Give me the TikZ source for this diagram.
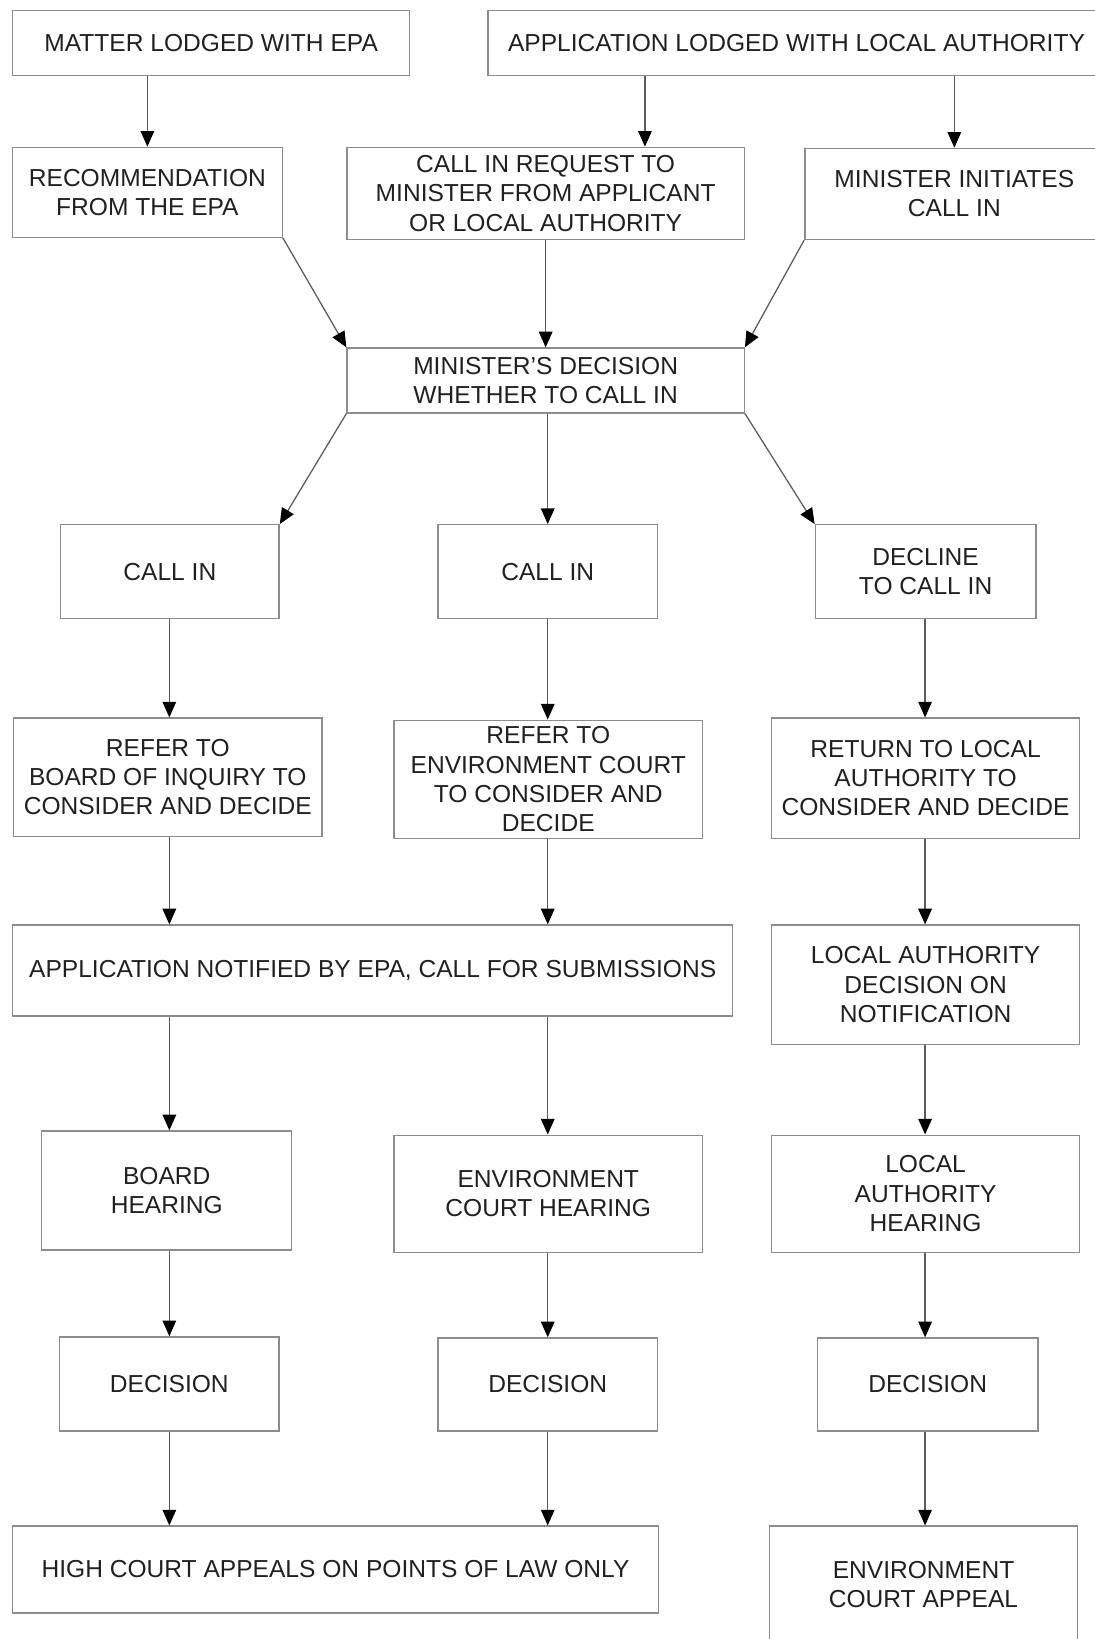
\documentclass[tikz,border=0pt]{standalone}
\usepackage{fontspec}
\setmainfont{Liberation Sans}
\usetikzlibrary{arrows.meta}
\definecolor{boxline}{HTML}{8C8C8C}
\definecolor{arrline}{HTML}{5A5A5A}
\definecolor{boxtext}{HTML}{202020}
\newcommand{\flwcolxa}{162}
\newcommand{\flwcolxb}{524}
\newcommand{\flwcolxc}{885}
\newcommand{\flwreqx}{617}

\begin{document}
\begin{tikzpicture}[x=1pt,y=-1pt,
    font=\fontsize{23.5}{28}\selectfont,
    stepbox/.style={draw=boxline,line width=1.3pt,text=boxtext,
      align=center,inner sep=0pt},
    flow/.style={draw=arrline,line width=1.2pt,
      -{Triangle[length=15pt,width=13pt,color=black]}}]

    \useasboundingbox (0,0) rectangle (1047,1568);
    \coordinate (colA) at (\flwcolxa,0);
    \coordinate (colB) at (\flwcolxb,0);
    \coordinate (colC) at (\flwcolxc,0);
    \coordinate (colR) at (\flwreqx,0);

    % entry points
    \node (matter) at (202,41) [stepbox,minimum width=380pt,minimum height=62pt]
      {MATTER LODGED WITH EPA};
    \node (applodge) at (762,41) [stepbox,minimum width=590pt,minimum height=62pt]
      {APPLICATION LODGED WITH LOCAL AUTHORITY};

    \node (rec) at (141,184) [stepbox,minimum width=258pt,minimum height=86pt]
      {RECOMMENDATION\\FROM THE EPA};
    \node (req) at (522,185) [stepbox,minimum width=380pt,minimum height=88pt]
      {CALL IN REQUEST TO\\MINISTER FROM APPLICANT\\OR LOCAL AUTHORITY};
    \node (mininit) at (913,185.5) [stepbox,minimum width=286pt,minimum height=87pt]
      {MINISTER INITIATES\\CALL IN};

    \node (mdec) at (522,364) [stepbox,minimum width=380pt,minimum height=62pt]
      {MINISTER'S DECISION\\WHETHER TO CALL IN};

    % three branches
    \node (callA) at (162.5,547) [stepbox,minimum width=209pt,minimum height=90pt]
      {CALL IN};
    \node (callB) at (524,547) [stepbox,minimum width=210pt,minimum height=90pt]
      {CALL IN};
    \node (declC) at (885.5,547) [stepbox,minimum width=211pt,minimum height=90pt]
      {DECLINE\\TO CALL IN};

    \node (referA) at (160.5,743.5) [stepbox,minimum width=295pt,minimum height=113pt]
      {REFER TO\\BOARD OF INQUIRY TO\\CONSIDER AND DECIDE};
    \node (referB) at (524.5,745.5) [stepbox,minimum width=295pt,minimum height=113pt]
      {REFER TO\\ENVIRONMENT COURT\\TO CONSIDER AND\\DECIDE};
    \node (returnC) at (885.5,744.5) [stepbox,minimum width=295pt,minimum height=115pt]
      {RETURN TO LOCAL\\AUTHORITY TO\\CONSIDER AND DECIDE};

    \node (notified) at (356.5,928.5) [stepbox,minimum width=689pt,minimum height=87pt]
      {APPLICATION NOTIFIED BY EPA, CALL FOR SUBMISSIONS};
    \node (ladec) at (885.5,942) [stepbox,minimum width=295pt,minimum height=114pt]
      {LOCAL AUTHORITY\\DECISION ON\\NOTIFICATION};

    \node (boardA) at (159.5,1139) [stepbox,minimum width=239pt,minimum height=114pt]
      {BOARD\\HEARING};
    \node (envB) at (524.5,1142) [stepbox,minimum width=295pt,minimum height=112pt]
      {ENVIRONMENT\\COURT HEARING};
    \node (lahC) at (885.5,1142) [stepbox,minimum width=295pt,minimum height=112pt]
      {LOCAL\\AUTHORITY\\HEARING};

    \node (decA) at (162,1324) [stepbox,minimum width=210pt,minimum height=90pt]
      {DECISION};
    \node (decB) at (524,1324.5) [stepbox,minimum width=210pt,minimum height=89pt]
      {DECISION};
    \node (decC) at (887.5,1324.5) [stepbox,minimum width=211pt,minimum height=89pt]
      {DECISION};

    % appeals
    \node (highct) at (321,1501.5) [stepbox,minimum width=618pt,minimum height=83pt]
      {HIGH COURT APPEALS ON POINTS OF LAW ONLY};
    \node (appealC) at (883.5,1516) [stepbox,minimum width=295pt,minimum height=112pt]
      {ENVIRONMENT\\COURT APPEAL};

    % connectors
    \draw[flow] (rec.north |- matter.south) -- (rec.north);
    \draw[flow] (colR |- applodge.south) -- (colR |- req.north);
    \draw[flow] (mininit.north |- applodge.south) -- (mininit.north);
    \draw[flow] (rec.south east) -- (mdec.north west);
    \draw[flow] (req.south) -- (mdec.north);
    \draw[flow] (mininit.south west) -- (mdec.north east);
    \draw[flow] (mdec.south west) -- (callA.north east);
    \draw[flow] (colB |- mdec.south) -- (colB |- callB.north);
    \draw[flow] (mdec.south east) -- (declC.north west);
    \draw[flow] (colA |- callA.south) -- (colA |- referA.north);
    \draw[flow] (colB |- callB.south) -- (colB |- referB.north);
    \draw[flow] (colC |- declC.south) -- (colC |- returnC.north);
    \draw[flow] (colA |- referA.south) -- (colA |- notified.north);
    \draw[flow] (colB |- referB.south) -- (colB |- notified.north);
    \draw[flow] (colC |- returnC.south) -- (colC |- ladec.north);
    \draw[flow] (colA |- notified.south) -- (colA |- boardA.north);
    \draw[flow] (colB |- notified.south) -- (colB |- envB.north);
    \draw[flow] (colC |- ladec.south) -- (colC |- lahC.north);
    \draw[flow] (colA |- boardA.south) -- (colA |- decA.north);
    \draw[flow] (colB |- envB.south) -- (colB |- decB.north);
    \draw[flow] (colC |- lahC.south) -- (colC |- decC.north);
    \draw[flow] (colA |- decA.south) -- (colA |- highct.north);
    \draw[flow] (colB |- decB.south) -- (colB |- highct.north);
    \draw[flow] (colC |- decC.south) -- (colC |- appealC.north);
  \end{tikzpicture}
\end{document}
